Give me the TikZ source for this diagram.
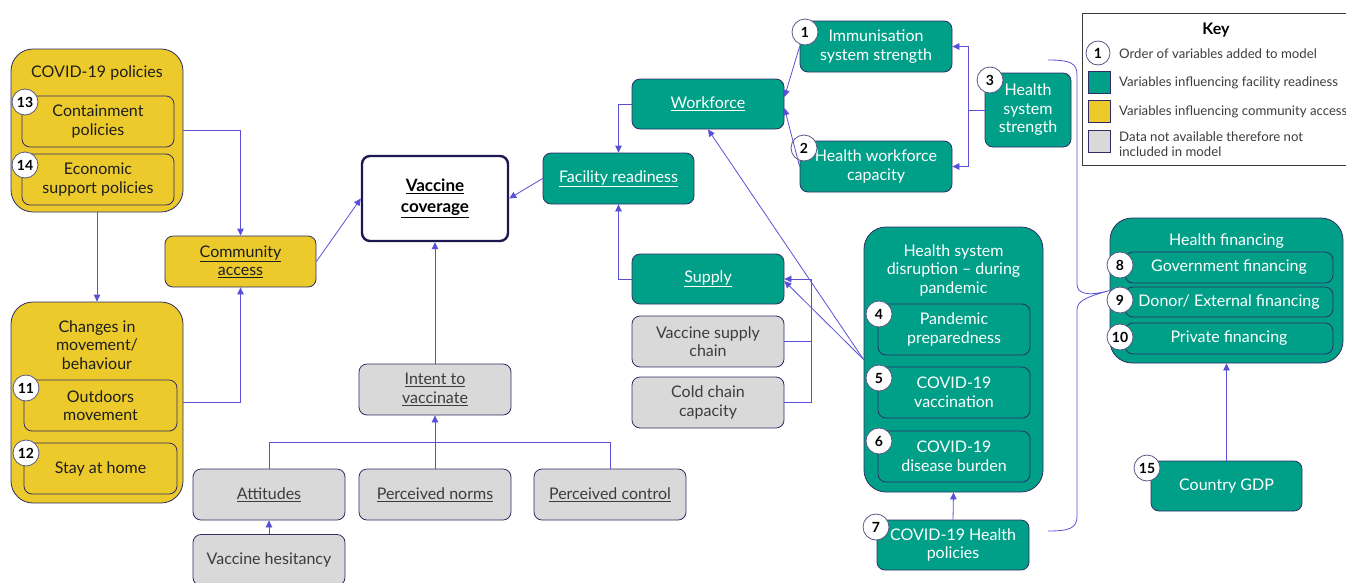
\documentclass[tikz,border=0pt]{standalone}
\usepackage{fontspec}
\setmainfont{Lato}
\usetikzlibrary{arrows.meta}
\definecolor{facteal}{RGB}{0,160,136}
\definecolor{comgold}{RGB}{236,202,44}
\definecolor{nogrey}{RGB}{217,217,217}
\definecolor{navy}{RGB}{47,45,100}
\definecolor{deepnavy}{RGB}{28,24,80}
\definecolor{link}{RGB}{90,80,215}
\definecolor{ink}{RGB}{30,30,30}
\definecolor{greyink}{RGB}{60,60,60}

\begin{document}
\begin{tikzpicture}[x=1pt,y=-1pt,
  every node/.style={font=\fontsize{16}{18.5}\selectfont},
  box/.style={draw=navy, line width=0.8pt, rounded corners=8pt, minimum width=152pt, minimum height=51pt, align=center, inner sep=2pt},
  fac/.style={box, fill=facteal, text=white},
  com/.style={box, fill=comgold, text=ink},
  nodata/.style={box, fill=nogrey, text=greyink},
  grp/.style={draw=navy, line width=0.8pt, rounded corners=22pt, inner sep=0pt},
  title/.style={align=center, inner sep=0pt},
  badge/.style={circle, draw=navy!80, fill=white, line width=0.8pt, minimum size=26pt, inner sep=0pt, text=black, font=\bfseries\fontsize{14}{14}\selectfont},
  keytext/.style={anchor=west, align=left, inner sep=0pt, text=greyink, font=\fontsize{13.2}{15.5}\selectfont},
  swatch/.style={draw=navy, line width=0.8pt, minimum width=22pt, minimum height=22pt, inner sep=0pt},
  wire/.style={draw=link, line width=0.8pt},
  arr/.style={wire, -{Triangle[width=6.5pt,length=7pt]}}]
  \useasboundingbox (0,0) rectangle (1346,582);
  % Groups:
  \node[grp, fill=comgold, minimum width=172pt, minimum height=163pt] (CPOL) at (97,130.5) {};
  \node[title, text=ink] at (97,73) {COVID-19 policies};
  \node[grp, fill=comgold, minimum width=172pt, minimum height=201pt] (CHG) at (97,402.5) {};
  \node[title, text=ink] at (97,345) {Changes in\\movement/\\behaviour};
  \node[grp, fill=facteal, minimum width=179pt, minimum height=265pt] (HSD) at (953.5,359.5) {};
  \node[title, text=white] at (953.5,270) {Health system\\disruption -- during\\pandemic};
  \node[grp, fill=facteal, minimum width=233pt, minimum height=145pt] (HF) at (1226.5,290.5) {};
  \node[title, text=white] at (1226.5,241) {Health financing};
  % Boxes:
  \node[com] (CONT) at (98,121.5) {Containment\\policies};
  \node[com] (ECON) at (98,179.5) {Economic\\support policies};
  \node[com, minimum width=153pt] (OUT) at (100.5,405.5) {Outdoors\\movement};
  \node[com, minimum width=153pt] (STAY) at (100.5,468.5) {Stay at home};
  \node[com, minimum width=151pt] (CA) at (240.5,261.5) {\underline{Community}\\\underline{access}};
  \node[box, fill=white, draw=deepnavy, line width=2.4pt, minimum width=146pt, minimum height=85pt, font=\bfseries\fontsize{17}{21}\selectfont] (VC) at (435,198.5) {\underline{Vaccine}\\\underline{coverage}};
  \node[nodata] (IV) at (435,389.5) {\underline{Intent to}\\\underline{vaccinate}};
  \node[nodata] (AT) at (269,494.5) {\underline{Attitudes}};
  \node[nodata] (PN) at (435,494.5) {\underline{Perceived norms}};
  \node[nodata] (PC) at (610,494.5) {\underline{Perceived control}};
  \node[nodata] (VH) at (269,560) {Vaccine hesitancy};
  \node[fac, minimum width=151pt] (FR) at (618.5,178.5) {\underline{Facility readiness}};
  \node[fac, minimum height=50pt] (WF) at (708,104) {\underline{Workforce}};
  \node[fac, minimum height=50pt] (SU) at (708,279) {\underline{Supply}};
  \node[nodata] (VSC) at (708,341.5) {Vaccine supply\\chain};
  \node[nodata] (CCC) at (708,402.5) {Cold chain\\capacity};
  \node[fac] (IS) at (876,46.5) {Immunisation\\system strength};
  \node[fac] (HWC) at (876,166.5) {Health workforce\\capacity};
  \node[fac, minimum width=86pt, minimum height=74pt] (HSS) at (1028,110) {Health\\system\\strength};
  \node[fac] (PP) at (954,329.5) {Pandemic\\preparedness};
  \node[fac] (CV) at (954,392.5) {COVID-19\\vaccination};
  \node[fac] (DB) at (954,456.5) {COVID-19\\disease burden};
  \node[fac, minimum height=50pt] (HP) at (953,545) {COVID-19 Health\\policies};
  \node[fac, minimum width=208pt, minimum height=31pt] (GOV) at (1229,267.5) {Government financing};
  \node[fac, minimum width=208pt, minimum height=30pt] (DON) at (1229,302) {Donor/ External financing};
  \node[fac, minimum width=208pt, minimum height=31pt] (PRIV) at (1229,338.5) {Private financing};
  \node[fac, minimum width=151pt, minimum height=50pt] (GDP) at (1226.5,486) {Country GDP};
  % Badges:
  \node[badge] (B1) at (805,32) {1};
  \node[badge] (B2) at (804,148) {2};
  \node[badge] (B3) at (990,80) {3};
  \node[badge] (B4) at (879,314) {4};
  \node[badge] (B5) at (879,378) {5};
  \node[badge] (B6) at (879,441) {6};
  \node[badge] (B7) at (876,527) {7};
  \node[badge] (B8) at (1120,265) {8};
  \node[badge] (B9) at (1120,300) {9};
  \node[badge] (B10) at (1120,337) {10};
  \node[badge] (B11) at (26,388) {11};
  \node[badge] (B12) at (26,453) {12};
  \node[badge] (B13) at (25,102) {13};
  \node[badge] (B14) at (25,165) {14};
  \node[badge] (B15) at (1147,468) {15};
  % Key:
  \node[draw=greyink, line width=1pt, minimum width=268pt, minimum height=152pt, inner sep=0pt] (KEY) at (1216,89) {};
  \node[inner sep=0pt, font=\bfseries\fontsize{16}{16}\selectfont] (KT) at (1216,30) {Key};
  \node[badge, minimum size=24pt] (KB) at (1098,53) {1};
  \node[keytext] (K1) at (1119,54) {Order of variables added to model};
  \node[swatch, fill=facteal] (KS1) at (1099,82.5) {};
  \node[keytext] (K2) at (1119,83) {Variables influencing facility readiness};
  \node[swatch, fill=comgold] (KS2) at (1099,111) {};
  \node[keytext] (K3) at (1119,112) {Variables influencing community access};
  \node[swatch, fill=nogrey] (KS3) at (1099,141) {};
  \node[keytext] (K4) at (1119,144) {Data not available therefore not\\included in model};
  % Wires:
  \coordinate (J) at (435,442);
  \coordinate (K) at (811,279);
  \coordinate (M) at (968,110);
  \draw[arr] (CPOL.south) -- (CHG.north);
  \draw[arr] (CPOL.east) -| (CA.north);
  \draw[arr] (CHG.east) -| (CA.south);
  \draw[arr] (CA.east) -- (VC.west);
  \draw[arr] (FR.west) -- (VC.east);
  \draw[arr] (IV.north) -- (VC.south);
  \draw[arr] (PN.north) -- (IV.south);
  \draw[wire] (AT.north) |- (J) -| (PC.north);
  \draw[arr] (VH.north) -- (AT.south);
  \draw[arr] (WF.west) -| (FR.north);
  \draw[arr] (SU.west) -| (FR.south);
  \draw[wire] (VSC.east) -| (K);
  \draw[arr] (CCC.east) -| (K) -- (SU.east);
  \draw[arr] (HSD.west) -- ([yshift=-2pt]SU.east);
  \draw[arr] (HSD.west) -- (WF.south);
  \draw[arr] (IS.west) -- ([yshift=7pt]WF.east);
  \draw[arr] (HWC.west) -- ([yshift=-4pt]WF.east);
  \draw[arr] (HSS.west) -- (M) |- (IS.east);
  \draw[arr] (M) |- (HWC.east);
  \draw[arr] (HP.north) -- (HSD.south);
  \draw[arr] (GDP.north) -- (HF.south);
  % Brace:
  \coordinate (BT) at (1048,60);
  \coordinate (BB) at (1048,531);
  \draw[wire] (BT) .. controls (1070,60) and (1077,63) .. (1077,75) -- (1077,284)
    .. controls (1077,293) and (1086,297) .. (HF.west)
    .. controls (1086,297) and (1077,301) .. (1077,310) -- (1077,516)
    .. controls (1077,528) and (1070,531) .. (BB);
\end{tikzpicture}
\end{document}
